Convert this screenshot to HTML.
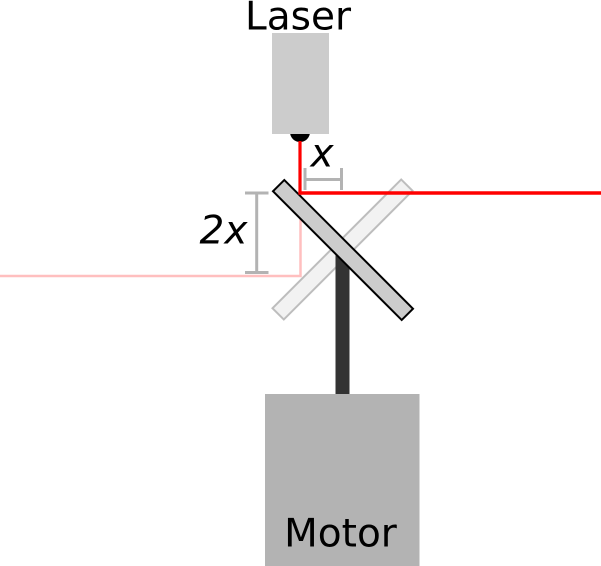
<!DOCTYPE html>
<html>
<head>
<meta charset="utf-8">
<style>
  html, body { margin: 0; padding: 0; background: #ffffff; }
  body { width: 601px; height: 566px; overflow: hidden; }
  svg { display: block; }
  text { font-family: "DejaVu Sans", "Liberation Sans", sans-serif; }
</style>
</head>
<body>
<svg width="601" height="566" viewBox="0 0 601 566" xmlns="http://www.w3.org/2000/svg">
  <!-- Laser label -->
  <text x="298" y="29.5" font-size="39" text-anchor="middle" fill="#000">Laser</text>

  <!-- Laser aperture (semicircle) -->
  <circle cx="300" cy="132" r="10" fill="#000"/>
  <!-- Laser body -->
  <rect x="272" y="33" width="57" height="101" fill="#cccccc"/>

  <!-- Faint (rotated) mirror -->
  <g transform="translate(342.5,249.5) rotate(-45)">
    <rect x="-91" y="-8" width="182" height="16" fill="#f2f2f2" stroke="#bdbdbd" stroke-width="2"/>
  </g>

  <!-- Pink reflected beam (previous position) -->
  <polyline points="0,276 300.5,276 300.5,192" fill="none" stroke="#ffbfbf" stroke-width="2.5"/>

  <!-- Shaft -->
  <rect x="335.5" y="250" width="14" height="145" fill="#333333"/>

  <!-- Motor -->
  <rect x="265" y="394" width="154.5" height="172" fill="#b3b3b3"/>
  <text x="340.5" y="546.5" font-size="39" text-anchor="middle" fill="#000">Motor</text>

  <!-- Dark mirror -->
  <g transform="translate(343,250) rotate(45)">
    <rect x="-91" y="-8" width="182" height="16" fill="#cccccc" stroke="#000" stroke-width="2"/>
  </g>

  <!-- Red beam -->
  <line x1="300" y1="141" x2="300" y2="193" stroke="#ff0000" stroke-width="3.2"/>
  <line x1="298.4" y1="193" x2="601" y2="193" stroke="#ff0000" stroke-width="3.5"/>

  <!-- x dimension marker -->
  <g stroke="#b3b3b3" stroke-width="3" fill="none">
    <line x1="305" y1="168" x2="305" y2="190"/>
    <line x1="341.5" y1="168" x2="341.5" y2="190"/>
    <line x1="305" y1="179.5" x2="341.5" y2="179.5"/>
  </g>
  <text x="310.5" y="166.5" font-size="39" font-style="italic" fill="#000">x</text>

  <!-- 2x dimension marker -->
  <g stroke="#b3b3b3" stroke-width="3" fill="none">
    <line x1="245" y1="193" x2="268.5" y2="193"/>
    <line x1="245" y1="272.5" x2="268.5" y2="272.5"/>
    <line x1="256.7" y1="193" x2="256.7" y2="272.5"/>
  </g>
  <text x="199.5" y="243.3" font-size="39" font-style="italic" fill="#000">2x</text>
</svg>
</body>
</html>
